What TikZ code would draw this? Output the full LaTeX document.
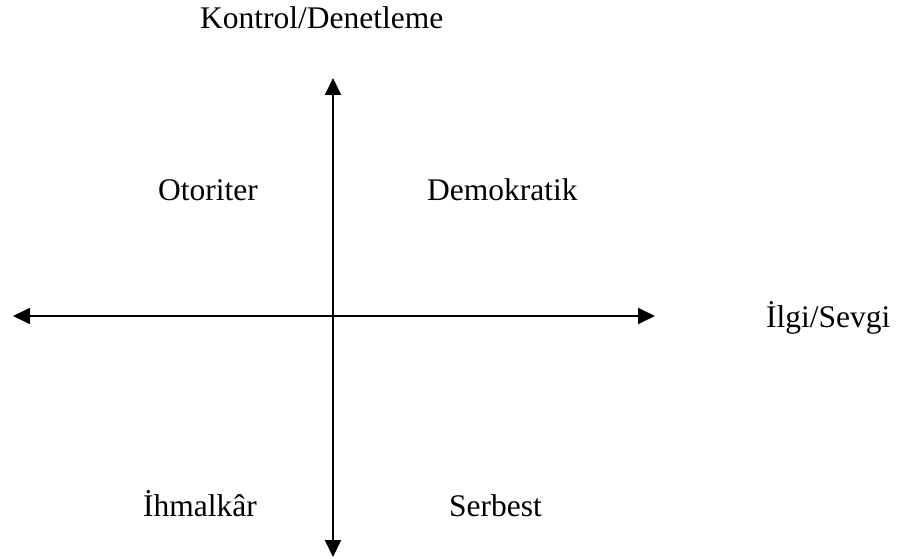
\documentclass[tikz,border=0pt]{standalone}
\usepackage{fontspec}
\setmainfont{Liberation Serif}
\usetikzlibrary{arrows.meta}
\begin{document}
\begin{tikzpicture}[x=1pt,y=1pt,
  lbl/.style={anchor=base west,inner sep=0pt,font=\fontsize{31.5}{38}\selectfont},
  axis/.style={line width=1.8pt,{Triangle[length=17pt,width=16pt]}-{Triangle[length=17pt,width=16pt]}}]
\useasboundingbox (0,0) rectangle (898,558);
\coordinate (L) at (13,242);
\coordinate (R) at (655,242);
\coordinate (T) at (333,480);
\coordinate (B) at (333,1);
\draw[axis] (L) -- (R);
\draw[axis] (B) -- (T);
\node[lbl] (kontrol) at (200,529) {Kontrol/Denetleme};
\node[lbl] (otoriter) at (158,357) {Otoriter};
\node[lbl] (demokratik) at (427,357) {Demokratik};
\node[lbl] (ilgi) at (766,230) {İlgi/Sevgi};
\node[lbl] (ihmalkar) at (143,42) {İhmalkâr};
\node[lbl] (serbest) at (449,42) {Serbest};
\end{tikzpicture}
\end{document}
